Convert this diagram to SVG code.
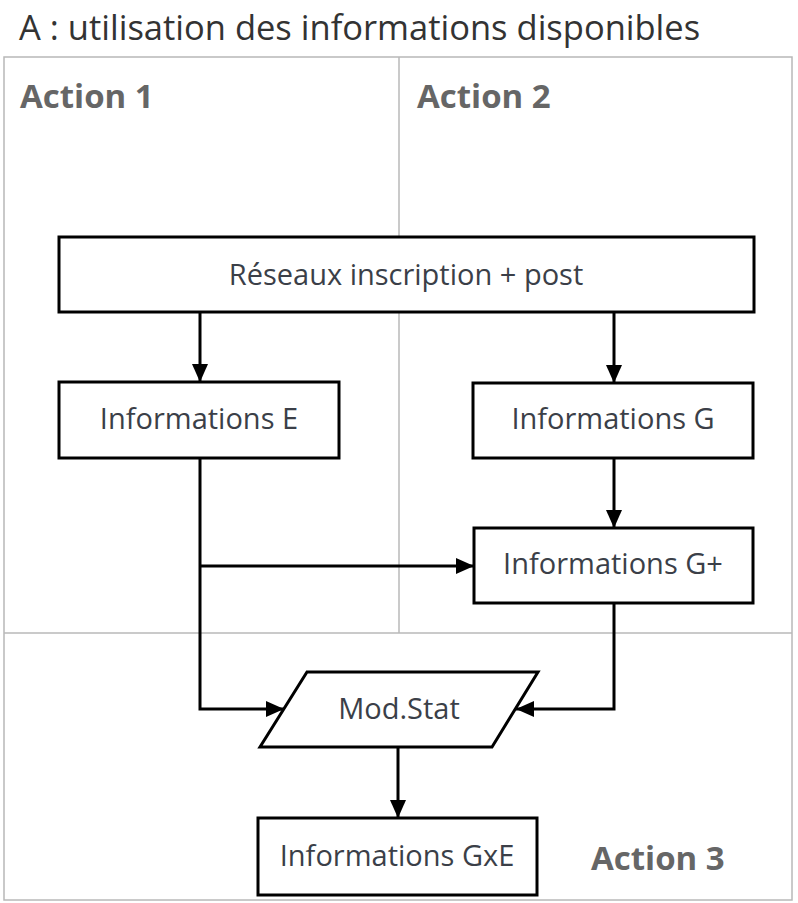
<svg xmlns="http://www.w3.org/2000/svg" width="798" height="903" viewBox="0 0 798 903">
<defs>
<marker id="ah" viewBox="0 0 18 16" refX="18" refY="8" markerWidth="18" markerHeight="16" markerUnits="userSpaceOnUse" orient="auto">
<path d="M0,0 L18,8 L0,16 z" fill="#000"/>
</marker>
<style>
.frame{fill:none;stroke:#b8b8b8;stroke-width:1.5}
.box{fill:#fff;stroke:#000;stroke-width:3}
.lbl{font-family:"Open Sans","DejaVu Sans",sans-serif;font-size:29px;fill:#3b3f48;text-anchor:middle}
.act{font-family:"Open Sans","DejaVu Sans",sans-serif;font-size:33px;font-weight:bold;fill:#666}
.title{font-family:"Open Sans","DejaVu Sans",sans-serif;font-size:34.5px;fill:#333}
.con{fill:none;stroke:#000;stroke-width:3}
</style>
</defs>
<rect width="798" height="903" fill="#fff"/>
<text class="title" x="19" y="40">A : utilisation des informations disponibles</text>
<g id="frame">
<rect class="frame" x="4" y="57" width="788" height="843"/>
<line class="frame" x1="399" y1="57" x2="399" y2="633"/>
<line class="frame" x1="4" y1="633" x2="792" y2="633"/>
<text class="act" x="20" y="108">Action 1</text>
<text class="act" x="417" y="108">Action 2</text>
<text class="act" x="591" y="870">Action 3</text>
</g>
<g id="connectors">
<line class="con" x1="200" y1="312" x2="200" y2="382" marker-end="url(#ah)"/>
<line class="con" x1="614" y1="312" x2="614" y2="383" marker-end="url(#ah)"/>
<line class="con" x1="614" y1="458" x2="614" y2="528" marker-end="url(#ah)"/>
<polyline class="con" points="200,566 474,566" marker-end="url(#ah)"/>
<polyline class="con" points="200,458 200,709 284,709" marker-end="url(#ah)"/>
<polyline class="con" points="614,603 614,709 516,709" marker-end="url(#ah)"/>
<line class="con" x1="398" y1="747" x2="398" y2="818" marker-end="url(#ah)"/>
</g>
<g id="reseaux">
<rect class="box" x="59" y="237" width="695" height="75"/>
<text class="lbl" x="406" y="285">Réseaux inscription + post</text>
</g>
<g id="infoE">
<rect class="box" x="59" y="382" width="280" height="76"/>
<text class="lbl" x="199" y="429">Informations E</text>
</g>
<g id="infoG">
<rect class="box" x="473" y="383" width="280" height="75"/>
<text class="lbl" x="613" y="429">Informations G</text>
</g>
<g id="infoGplus">
<rect class="box" x="474" y="528" width="279" height="75"/>
<text class="lbl" x="613" y="574">Informations G+</text>
</g>
<g id="modstat">
<polygon class="box" points="307,672 538,672 492,747 260,747"/>
<text class="lbl" x="399" y="719">Mod.Stat</text>
</g>
<g id="infoGxE">
<rect class="box" x="258" y="818" width="279" height="77"/>
<text class="lbl" x="397" y="866">Informations GxE</text>
</g>
</svg>
